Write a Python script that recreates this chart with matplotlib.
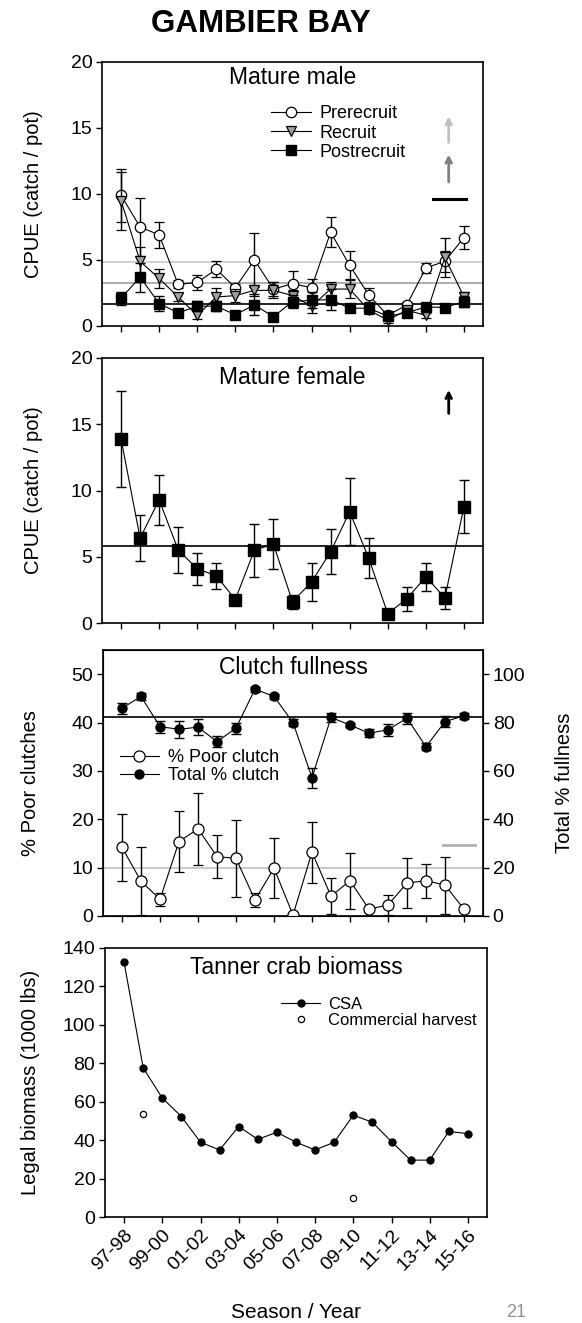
import numpy as np
import matplotlib.pyplot as plt

plt.rcParams['font.family'] = ['Liberation Sans', 'DejaVu Sans']

seasons = ['97-98', '98-99', '99-00', '00-01', '01-02', '02-03', '03-04', '04-05', '05-06', '06-07',
           '07-08', '08-09', '09-10', '10-11', '11-12', '12-13', '13-14', '14-15', '15-16']
x = np.arange(len(seasons))

# Mature male CPUE
prerecruit = [9.9, 7.5, 6.9, 3.15, 3.3, 4.3, 2.9, 5.0, 2.8, 3.2, 2.9, 7.1, 4.6, 2.35, 0.8, 1.6, 4.4, 4.9, 6.7]
prerecruit_err = [2.0, 2.2, 1.0, 0.3, 0.6, 0.6, 0.3, 2.05, 0.5, 1.0, 0.65, 1.15, 1.05, 0.5, 0.2, 0.2, 0.4, 0.8, 0.9]
recruit = [9.5, 4.9, 3.6, 2.2, 0.8, 2.2, 2.3, 2.7, 2.7, 2.3, 1.5, 2.8, 2.8, 1.2, 0.45, 1.2, 0.8, 5.2, 2.2]
recruit_err = [2.2, 1.05, 0.75, 0.3, 0.3, 0.7, 0.5, 0.4, 0.6, 0.4, 0.5, 0.5, 0.7, 0.3, 0.2, 0.2, 0.2, 1.5, 0.4]
postrecruit = [2.1, 3.7, 1.7, 1.0, 1.5, 1.5, 0.85, 1.6, 0.7, 1.85, 1.95, 2.0, 1.35, 1.35, 0.75, 1.0, 1.45, 1.4, 1.85]
postrecruit_err = [0.5, 1.1, 0.6, 0.2, 0.4, 0.4, 0.2, 0.8, 0.2, 0.5, 0.6, 0.8, 0.3, 0.4, 0.2, 0.2, 0.2, 0.2, 0.4]
male_refs = [4.87, 3.28, 1.66]
male_ref_colors = ['#c8c8c8', '#a0a0a0', 'black']

# Mature female CPUE
female = [13.9, 6.4, 9.3, 5.5, 4.1, 3.56, 1.77, 5.5, 5.95, 1.6, 3.1, 5.37, 8.4, 4.9, 0.7, 1.84, 3.48, 1.9, 8.78]
female_err = [3.6, 1.75, 1.9, 1.76, 1.2, 1.0, 0.2, 2.0, 1.9, 0.55, 1.45, 1.7, 2.55, 1.5, 0.2, 0.9, 1.05, 0.85, 2.0]
female_ref = 5.8

# Clutch fullness
poor_clutch = [14.2, 7.2, 3.45, 15.4, 18.0, 12.3, 11.9, 3.3, 9.9, 0.2, 13.2, 4.1, 7.3, 1.4, 2.3, 6.8, 7.3, 6.4, 1.4]
poor_err = [6.9, 7.0, 1.3, 6.3, 7.4, 4.5, 7.9, 1.4, 6.2, 0.2, 6.3, 3.7, 5.8, 0.5, 2.0, 5.2, 3.5, 5.9, 0.5]
total_clutch = [85.9, 90.8, 78.3, 77.2, 78.1, 72.1, 77.7, 93.8, 90.8, 80.0, 57.2, 82.1, 79.0, 75.6, 77.0, 81.8, 70.0, 80.4, 82.8]
total_err = [2.3, 1.6, 2.5, 3.5, 3.4, 2.2, 2.3, 1.0, 1.2, 1.6, 4.1, 1.8, 1.0, 1.6, 2.5, 2.3, 1.4, 2.4, 1.3]
total_ref = 82.1
poor_ref = 9.9

# Biomass
csa = [132.5, 77.6, 61.9, 52.3, 38.9, 34.9, 47.1, 40.4, 44.1, 38.9, 34.9, 38.9, 53.0, 49.3, 39.2, 29.6, 29.6, 44.5, 43.4]
harvest_x = [1, 12]
harvest = [53.5, 10.1]

W, H = 582, 1323
fig = plt.figure(figsize=(W / 100, H / 100), dpi=100)

def box(l, t, r, b):
    return [l / W, 1 - b / H, (r - l) / W, (b - t) / H]

ax1 = fig.add_axes(box(102, 62, 483, 326))
ax2 = fig.add_axes(box(102, 358, 483, 623))
ax3 = fig.add_axes(box(103, 650, 483, 916))
ax4 = fig.add_axes(box(105, 948, 487, 1217))

lw = 0.8
eb = dict(capsize=3.4, elinewidth=1.0, capthick=1.0, ecolor='black', color='black', lw=lw)

for ax in (ax1, ax2, ax3, ax4):
    ax.set_xlim(-1, len(seasons))
    ax.set_xticks(x[::2])
    ax.tick_params(direction='out', length=4, width=1.0, labelsize=14, pad=3)
    for s in ax.spines.values():
        s.set_linewidth(1.2)

def panel_title(ax, text, y):
    ax.text(0.5, y, text, transform=ax.transAxes, ha='center', va='center', fontsize=16.5, zorder=10)

# panel 1
for v, c in zip(male_refs, male_ref_colors):
    ax1.axhline(v, color=c, lw=1.2, zorder=1)
ax1.errorbar(x, prerecruit, yerr=prerecruit_err, marker='o', ms=7.5, mfc='white', mec='black',
             mew=0.9, label='Prerecruit', zorder=3, **eb)
ax1.errorbar(x, recruit, yerr=recruit_err, marker='v', ms=7.5, mfc='#a0a0a0', mec='black',
             mew=0.9, label='Recruit', zorder=4, **eb)
ax1.errorbar(x, postrecruit, yerr=postrecruit_err, marker='s', ms=7.5, mfc='black', mec='black',
             label='Postrecruit', zorder=5, **eb)
ax1.set_ylim(0, 20)
ax1.set_yticks([0, 5, 10, 15, 20])
ax1.set_xticklabels([])
panel_title(ax1, 'Mature male', 0.943)
ax1.set_ylabel('CPUE (catch / pot)', fontsize=14.5)
ax1.yaxis.set_label_coords(-0.155, 0.5)
h, l = ax1.get_legend_handles_labels()
ax1.legend([hh[0] for hh in h], l, loc='upper left', bbox_to_anchor=(0.42, 0.87), frameon=False,
           fontsize=13, handlelength=2.2, handletextpad=0.5, labelspacing=0.12, borderpad=0)
ax1.annotate('', xy=(17.2, 16.1), xytext=(17.2, 13.7),
             arrowprops=dict(arrowstyle='->', color='#c0c0c0', lw=2))
ax1.annotate('', xy=(17.2, 13.2), xytext=(17.2, 10.7),
             arrowprops=dict(arrowstyle='->', color='#808080', lw=2))
ax1.plot([16.4, 18.1], [9.6, 9.6], color='black', lw=2.2)

# panel 2
ax2.axhline(female_ref, color='black', lw=1.2, zorder=1)
ax2.errorbar(x, female, yerr=female_err, marker='s', ms=9, mfc='black', mec='black', zorder=3, **eb)
ax2.set_ylim(0, 20)
ax2.set_yticks([0, 5, 10, 15, 20])
ax2.set_xticklabels([])
panel_title(ax2, 'Mature female', 0.925)
ax2.set_ylabel('CPUE (catch / pot)', fontsize=14.5)
ax2.yaxis.set_label_coords(-0.155, 0.5)
ax2.annotate('', xy=(17.2, 17.8), xytext=(17.2, 15.6),
             arrowprops=dict(arrowstyle='->', color='black', lw=2))

# panel 3
ax3r = ax3.twinx()
ax3.axhline(poor_ref, color='#c0c0c0', lw=1.2, zorder=1)
ax3.plot([16.9, 18.6], [14.7, 14.7], color='#b0b0b0', lw=2)
p1 = ax3.errorbar(x, poor_clutch, yerr=poor_err, marker='o', ms=8, mfc='white', mec='black',
                  mew=0.9, zorder=3, **eb)
ax3r.axhline(total_ref, color='black', lw=1.2, zorder=1)
p2 = ax3r.errorbar(x, total_clutch, yerr=total_err, marker='o', ms=6.5, mfc='black', mec='black',
                   zorder=3, **eb)
ax3.set_ylim(0, 55)
ax3.set_yticks([0, 10, 20, 30, 40, 50])
ax3r.set_ylim(0, 110)
ax3r.set_yticks([0, 20, 40, 60, 80, 100])
ax3r.tick_params(direction='out', length=4, width=1.0, labelsize=14, pad=3)
ax3.set_xticklabels([])
panel_title(ax3r, 'Clutch fullness', 0.936)
ax3.set_ylabel('% Poor clutches', fontsize=14.5)
ax3.yaxis.set_label_coords(-0.165, 0.5)
ax3r.set_ylabel('Total % fullness', fontsize=14.5)
ax3r.yaxis.set_label_coords(1.19, 0.5)
ax3r.legend([p1[0], p2[0]], ['% Poor clutch', 'Total % clutch'], loc='upper left',
            bbox_to_anchor=(0.02, 0.66), frameon=False, fontsize=13, handlelength=2.2,
            handletextpad=0.5, labelspacing=0.05, borderpad=0)

# panel 4
ax4.plot(x, csa, marker='o', ms=5, color='black', mfc='black', lw=lw, label='CSA')
ax4.plot(harvest_x, harvest, ls='none', marker='o', ms=4.5, mfc='white', mec='black', mew=0.9,
         label='Commercial harvest')
ax4.set_ylim(0, 140)
ax4.set_yticks(range(0, 141, 20))
ax4.set_xticklabels(seasons[::2], rotation=45, ha='right', rotation_mode='anchor', fontsize=14)
panel_title(ax4, 'Tanner crab biomass', 0.926)
ax4.set_ylabel('Legal biomass (1000 lbs)', fontsize=14.5)
ax4.yaxis.set_label_coords(-0.17, 0.5)
ax4.legend(loc='upper left', bbox_to_anchor=(0.44, 0.85), frameon=False, fontsize=12,
           handlelength=2.3, handletextpad=0.5, labelspacing=0.05, borderpad=0)

fig.text(261 / W, 1 - 24 / H, 'GAMBIER BAY', ha='center', va='center', fontsize=22.5, fontweight='bold')
fig.text(296 / W, 1 - 1312 / H, 'Season / Year', ha='center', va='center', fontsize=15)
fig.text(506 / W, 1 - 1321 / H, '21', ha='left', va='bottom', fontsize=13, color='#909090')

fig.savefig('out.png', dpi=100)
